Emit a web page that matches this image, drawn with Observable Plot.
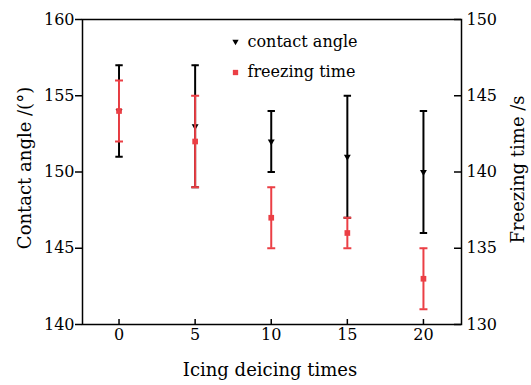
<!DOCTYPE html>
<html><head><meta charset="utf-8">
<script src="https://cdn.jsdelivr.net/npm/d3@7"></script>
<script src="https://cdn.jsdelivr.net/npm/@observablehq/plot@0.6"></script>
<style>
body{margin:0;background:#fff}
svg, svg text, svg g {font-family:'DejaVu Serif', serif !important;}
</style>
</head><body><div id="chart"></div>
<script>
// Data
const xs = [0, 5, 10, 15, 20];
const caMean = [154, 153, 152, 151, 150];
const caLow  = [151, 149, 150, 147, 146];
const caHigh = [157, 157, 154, 155, 154];
const ftMean = [144, 142, 137, 136, 133];
const ftLow  = [142, 139, 135, 135, 131];
const ftHigh = [146, 145, 139, 137, 135];
const xTicks = [0, 5, 10, 15, 20];
const yTicks = [140, 145, 150, 155, 160];
const ftOffset = 10; // right axis 130-150 maps onto left axis 140-160
const legendLabels = ["contact angle", "freezing time"];
const xLabel = "Icing deicing times";
const yLabel = "Contact angle /(°)";
const y2Label = "Freezing time /s";

const W = 531, H = 385, mL = 82, mR = 70, mT = 19, mB = 61;
const pw = W - mL - mR, ph = H - mT - mB;
const black = "#000", red = "#eb3f45";
const serif = "DejaVu Serif";

const ca = xs.map((x, i) => ({x, m: caMean[i], lo: caLow[i], hi: caHigh[i]}));
const ft = xs.map((x, i) => ({x, m: ftMean[i] + ftOffset, lo: ftLow[i] + ftOffset, hi: ftHigh[i] + ftOffset}));
const cap = {draw(ctx, size) { const r = Math.sqrt(size / Math.PI); ctx.moveTo(-r, 0); ctx.lineTo(r, 0); }};

const chart = Plot.plot({
  width: W, height: H,
  marginLeft: mL, marginRight: mR, marginTop: mT, marginBottom: mB,
  style: {fontFamily: serif, fontSize: "16px", color: "#000", background: "#fff"},
  x: {domain: [-2.4, 22.5]},
  y: {domain: [140, 160]},
  marks: [
    Plot.axisY({ticks: yTicks, tickSize: 7, tickPadding: 1, label: null, fontSize: 16, strokeWidth: 1.5}),
    Plot.axisY({anchor: "right", ticks: yTicks, tickFormat: d => d - ftOffset, tickSize: 0, tickPadding: 5, label: null, fontSize: 16}),
    Plot.axisX({ticks: xTicks, tickSize: 0, tickPadding: 4, label: null, fontSize: 16}),
    Plot.tickY(yTicks, {y: d => d, insetLeft: pw - 7, stroke: black, strokeWidth: 1.5}),
    Plot.tickX(xTicks, {x: d => d, insetTop: ph - 5, stroke: black, strokeWidth: 1.5}),
    // contact angle
    Plot.ruleX(ca, {x: "x", y1: "lo", y2: "hi", stroke: black, strokeWidth: 2}),
    Plot.dot(ca, {x: "x", y: "lo", symbol: cap, r: 3.7, stroke: black, strokeWidth: 2}),
    Plot.dot(ca, {x: "x", y: "hi", symbol: cap, r: 3.7, stroke: black, strokeWidth: 2}),
    Plot.dot(ca, {x: "x", y: "m", symbol: "triangle2", rotate: 180, r: 3.3, fill: black, stroke: "none"}),
    // freezing time
    Plot.ruleX(ft, {x: "x", y1: "lo", y2: "hi", stroke: red, strokeWidth: 2}),
    Plot.dot(ft, {x: "x", y: "lo", symbol: cap, r: 4, stroke: red, strokeWidth: 2}),
    Plot.dot(ft, {x: "x", y: "hi", symbol: cap, r: 4, stroke: red, strokeWidth: 2}),
    Plot.dot(ft, {x: "x", y: "m", symbol: "square", r: 3.2, fill: red, stroke: "none"}),
    Plot.frame({stroke: black, strokeWidth: 1.5}),
    // legend
    Plot.dot([0], {frameAnchor: "top-left", dx: 153, dy: 22, symbol: "triangle2", rotate: 180, r: 3, fill: black}),
    Plot.dot([0], {frameAnchor: "top-left", dx: 153, dy: 53, symbol: "square", r: 3, fill: red}),
    Plot.text([legendLabels[0]], {frameAnchor: "top-left", dx: 165, dy: 22, textAnchor: "start", lineAnchor: "middle", fontSize: 16, fill: black}),
    Plot.text([legendLabels[1]], {frameAnchor: "top-left", dx: 165, dy: 52, textAnchor: "start", lineAnchor: "middle", fontSize: 16, fill: black}),
    // titles
    Plot.text([xLabel], {frameAnchor: "bottom", textAnchor: "middle", lineAnchor: "middle", dx: -2, dy: 46, fontSize: 18, fill: black}),
    Plot.text([yLabel], {frameAnchor: "left", textAnchor: "middle", lineAnchor: "middle", rotate: -90, dx: -57, dy: -4, fontSize: 18, fill: black}),
    Plot.text([y2Label], {frameAnchor: "right", textAnchor: "middle", lineAnchor: "middle", rotate: -90, dx: 57, dy: -2.5, fontSize: 18, fill: black})
  ]
});
chart.setAttribute("font-family", serif);
chart.querySelectorAll("g, text").forEach(el => { el.setAttribute("font-family", serif); });
document.getElementById("chart").append(chart);
</script>
</body></html>
